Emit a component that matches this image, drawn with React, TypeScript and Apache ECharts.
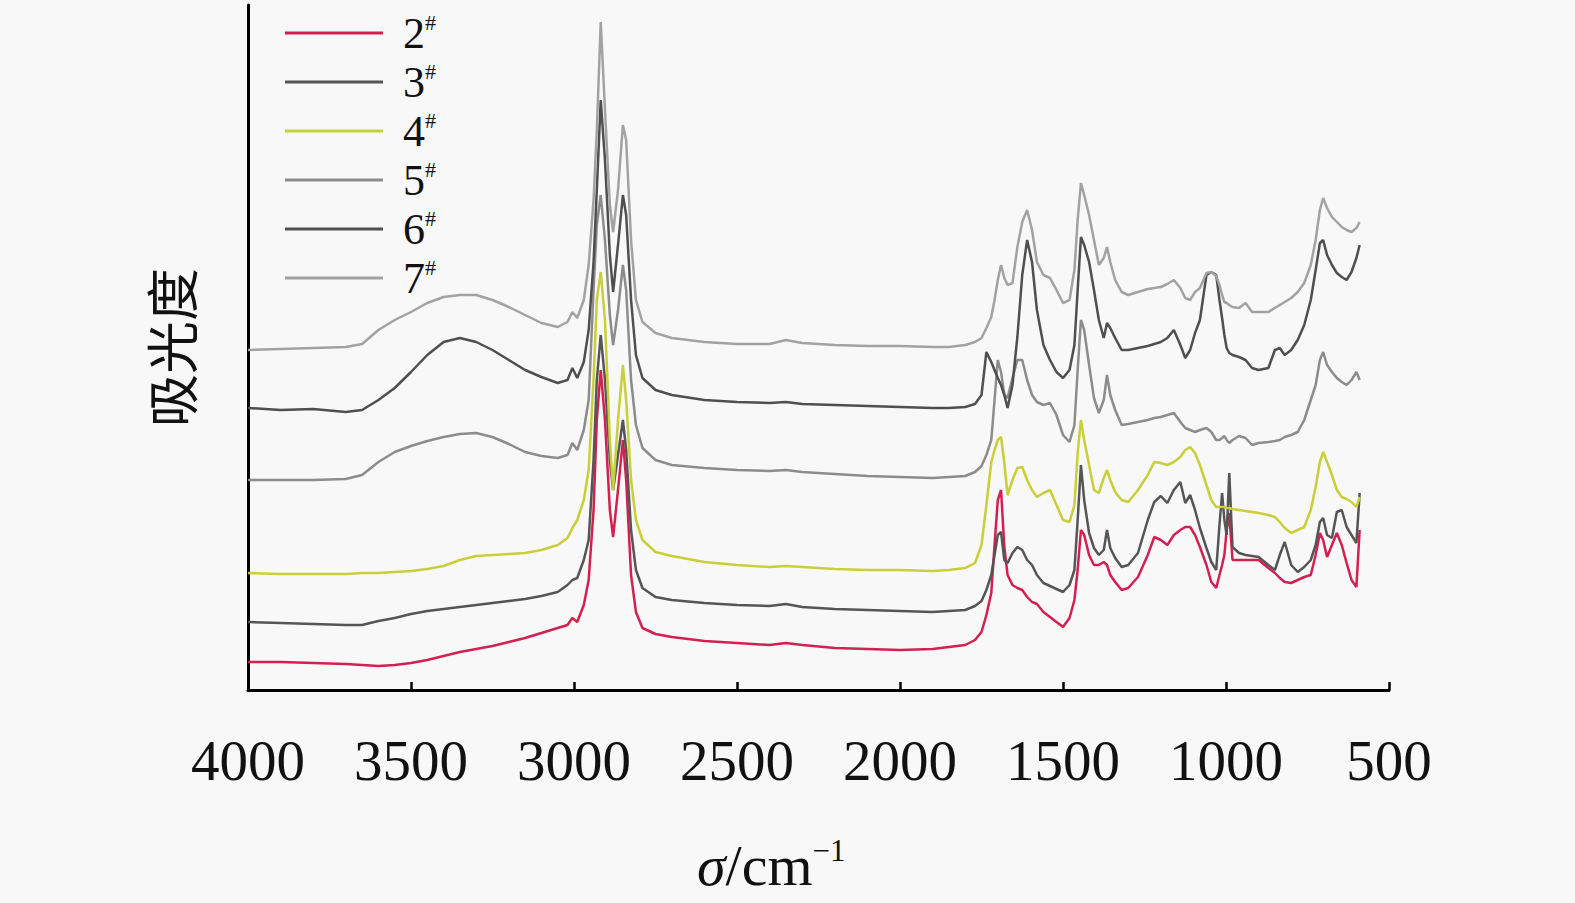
import React, { useEffect, useRef } from "react";
import * as echarts from "echarts";

const wavenumbers = [
  4000, 3900, 3800, 3700, 3650, 3600, 3550, 3500, 3450, 3400, 3350, 3300, 3250, 3200, 3150, 3100, 3050, 3020, 3005, 2990,
  2970, 2955, 2940, 2930, 2918, 2905, 2890, 2880, 2865, 2850, 2840, 2825, 2810, 2790, 2750, 2700, 2600, 2500, 2400, 2350,
  2300, 2200, 2100, 2000, 1900, 1850, 1800, 1770,
  1750, 1735, 1720, 1710, 1700, 1690, 1680, 1670, 1655, 1640, 1625, 1610, 1595, 1580, 1560, 1540, 1520, 1500, 1480, 1465,
  1455, 1445, 1435, 1420, 1405, 1390, 1375, 1365, 1355, 1340, 1320, 1300, 1270, 1240, 1220, 1200, 1180, 1160, 1140, 1125,
  1110, 1095, 1080, 1060, 1045, 1030, 1020, 1012, 1005, 998, 990, 980, 960, 940, 920, 900, 870, 850, 835, 820,
  800, 780, 760, 740, 725, 712, 702, 690, 675, 660, 645, 630, 615, 600, 590,
];

const spectrum2 = [
  28, 28, 27, 26, 25, 24, 25, 27, 30, 34, 38, 41, 44, 48, 52, 57, 62, 65, 72, 68,
  85, 110, 180, 270, 320, 270, 180, 153, 200, 250, 210, 115, 78, 62, 56, 53, 49, 47, 45, 47,
  45, 42, 41, 40, 41, 43, 45, 50,
  58, 75, 97, 145, 190, 200, 143, 115, 105, 102, 100, 93, 88, 86, 78, 73, 68, 63, 72, 90,
  120, 160, 155, 135, 125, 125, 128, 125, 115, 108, 100, 102, 113, 135, 153, 150, 145, 155, 160, 163,
  163, 155, 143, 125, 108, 102, 115, 125, 135, 160, 177, 130, 130, 130, 130, 130, 122, 117, 112, 108,
  107, 110, 113, 115, 135, 157, 150, 133, 145, 157, 145, 127, 110, 103, 160,
];

const spectrum3 = [
  68, 67, 66, 65, 65, 69, 72, 76, 79, 81, 83, 85, 87, 89, 91, 94, 98, 105, 110, 112,
  130, 150, 230, 310, 355, 310, 230, 200, 235, 270, 240, 160, 120, 102, 93, 90, 87, 85, 84, 86,
  83, 81, 80, 79, 78, 79, 80, 84,
  89, 100, 115, 135, 155, 158, 130, 127, 137, 143, 140, 130, 125, 115, 107, 104, 101, 98, 105, 120,
  170, 225, 190, 157, 142, 135, 140, 160, 142, 132, 123, 125, 137, 170, 188, 194, 187, 200, 208, 187,
  195, 180, 162, 142, 128, 120, 165, 197, 170, 155, 217, 143, 137, 135, 134, 133, 125, 120, 135, 148,
  125, 118, 123, 130, 145, 168, 172, 155, 152, 178, 180, 163, 155, 147, 197,
];

const spectrum4 = [
  117, 116, 116, 116, 117, 117, 118, 119, 121, 124, 130, 134, 135, 136, 137, 140, 145, 152, 162, 170,
  190, 220, 310, 390, 418, 370, 250, 200, 270, 325, 290, 210, 170, 150, 138, 134, 128, 125, 123, 124,
  123, 121, 120, 120, 119, 120, 122, 127,
  145, 185, 228, 240, 250, 253, 227, 195, 210, 222, 223, 210, 200, 193, 197, 200, 185, 170, 168, 185,
  237, 270, 250, 225, 200, 197, 212, 220, 210, 198, 190, 188, 200, 215, 228, 227, 225, 228, 233, 240,
  243, 237, 225, 205, 190, 183, 183, 183, 183, 182, 182, 181, 180, 179, 178, 177, 175, 173, 168, 162,
  157, 160, 163, 180, 203, 228, 238, 228, 215, 200, 193, 191, 188, 183, 193,
];

const spectrum5 = [
  210, 210, 210, 211, 215, 228, 238, 244, 249, 253, 256, 257, 253, 246, 238, 234, 232, 235, 247, 240,
  260, 290, 400, 465, 495, 450, 375, 345, 380, 425, 400, 310, 265, 242, 230, 225, 222, 220, 219, 220,
  218, 216, 214, 213, 212, 213, 214, 218,
  224, 235, 250, 290, 330, 318, 295, 292, 312, 330, 330, 310, 295, 288, 285, 287, 275, 255, 248, 265,
  320, 370, 360, 325, 292, 277, 290, 315, 295, 280, 265, 266, 268, 270, 272, 273, 275, 277, 268, 262,
  260, 258, 260, 262, 258, 250, 250, 252, 254, 250, 247, 250, 254, 252, 245, 247, 248, 249, 250, 253,
  255, 258, 270, 290, 305, 330, 338, 325, 318, 312, 308, 305, 310, 318, 310,
];

const spectrum6 = [
  282, 280, 281, 278, 280, 290, 302, 318, 335, 348, 352, 348, 340, 330, 320, 313, 307, 310, 322, 312,
  328, 360, 428, 500, 590, 530, 435, 398, 445, 495, 475, 390, 335, 312, 300, 295, 290, 288, 287, 288,
  286, 285, 284, 283, 282, 282, 283, 286,
  295, 338, 328, 320, 312, 305, 295, 282, 305, 353, 415, 450, 428, 380, 345, 330, 318, 312, 320, 345,
  400, 453, 445, 428, 400, 370, 352, 367, 362, 352, 340, 340, 342, 344, 346, 348, 352, 360, 345, 332,
  340, 357, 370, 415, 418, 415, 390, 372, 355, 342, 337, 335, 333, 330, 322, 320, 322, 340, 342, 335,
  340, 350, 365, 390, 420, 447, 450, 435, 425, 417, 413, 410, 418, 432, 445,
];

const spectrum7 = [
  340, 341, 342, 343, 346, 360, 370, 378, 387, 393, 395, 395, 390, 383, 375, 367, 363, 368, 378, 372,
  390, 425, 490, 560, 668, 580, 485, 458, 500, 565, 550, 450, 390, 368, 357, 352, 348, 346, 346, 350,
  347, 345, 344, 344, 343, 343, 345, 348,
  352, 362, 373, 390, 410, 425, 412, 405, 407, 443, 468, 480, 460, 428, 415, 412, 400, 387, 390, 420,
  470, 507, 495, 475, 450, 425, 432, 443, 428, 410, 398, 395, 398, 401, 402, 403, 406, 410, 402, 392,
  390, 398, 402, 417, 418, 414, 405, 395, 388, 387, 385, 383, 382, 387, 378, 378, 378, 382, 385, 388,
  392, 398, 407, 425, 450, 480, 492, 482, 473, 468, 463, 460, 458, 462, 468,
];

const seriesNames = ["2#", "3#", "4#", "5#", "6#", "7#"];
const seriesValues = [spectrum2, spectrum3, spectrum4, spectrum5, spectrum6, spectrum7];
const seriesColors = ["#d42050", "#555555", "#c8cf38", "#8c8c8c", "#4f4f4f", "#a2a2a2"];

const SERIF = '"Liberation Serif", "Times New Roman", serif';

export default function App() {
  const ref = useRef<HTMLDivElement>(null);

  useEffect(() => {
    const chart = echarts.init(ref.current as HTMLDivElement, null, { renderer: "svg" });
    chart.setOption({
      animation: false,
      backgroundColor: "#f8f8f8",
      grid: { left: 248, right: 186, top: 5, bottom: 213, containLabel: false },
      legend: {
        orient: "vertical",
        left: 280,
        top: 6,
        icon: "rect",
        itemWidth: 98,
        itemHeight: 3,
        itemGap: 5,
        data: seriesNames,
        formatter: (name: string) => `{n|${name.slice(0, -1)}}{s|#}`,
        textStyle: {
          padding: [0, 0, 0, 15],
          rich: {
            n: { fontFamily: SERIF, fontSize: 44, lineHeight: 44, color: "#111" },
            s: { fontFamily: SERIF, fontSize: 22, lineHeight: 26, verticalAlign: "top", color: "#111" },
          },
        },
      },
      xAxis: {
        type: "value",
        min: 500,
        max: 4000,
        interval: 500,
        inverse: true,
        axisLine: { lineStyle: { color: "#000", width: 3 } },
        axisTick: { inside: true, length: 8, lineStyle: { color: "#000", width: 2.5 } },
        axisLabel: {
          margin: 42,
          fontFamily: SERIF,
          fontSize: 57,
          color: "#111",
          formatter: (v: number) => String(v),
        },
        splitLine: { show: false },
      },
      yAxis: {
        type: "value",
        min: 0,
        max: 685,
        axisLine: { show: true, lineStyle: { color: "#000", width: 3 } },
        axisTick: { show: false },
        axisLabel: { show: false },
        splitLine: { show: false },
        name: "吸光度",
        nameLocation: "middle",
        nameGap: 52,
        nameRotate: 90,
        nameTextStyle: { fontFamily: '"Noto Sans CJK SC", sans-serif', fontSize: 53, color: "#111" },
      },
      graphic: [
        {
          type: "text",
          left: 697,
          top: 835,
          style: {
            text: "{i|σ}{t|/cm}{p|−1}",
            rich: {
              i: { fontFamily: SERIF, fontStyle: "italic", fontSize: 58, lineHeight: 60, fill: "#111" },
              t: { fontFamily: SERIF, fontSize: 58, lineHeight: 60, fill: "#111" },
              p: { fontFamily: SERIF, fontSize: 31, lineHeight: 36, verticalAlign: "top", fill: "#111" },
            },
          },
        },
      ],
      series: seriesNames.map((name, k) => ({
        name,
        type: "line",
        symbol: "none",
        showSymbol: false,
        data: wavenumbers.map((w, i) => [w, seriesValues[k][i]]),
        lineStyle: { width: 2.5, color: seriesColors[k] },
        itemStyle: { color: seriesColors[k] },
      })),
    });
    return () => chart.dispose();
  }, []);

  return <div ref={ref} style={{ position: "fixed", left: 0, top: 0, width: 1575, height: 903 }} />;
}
